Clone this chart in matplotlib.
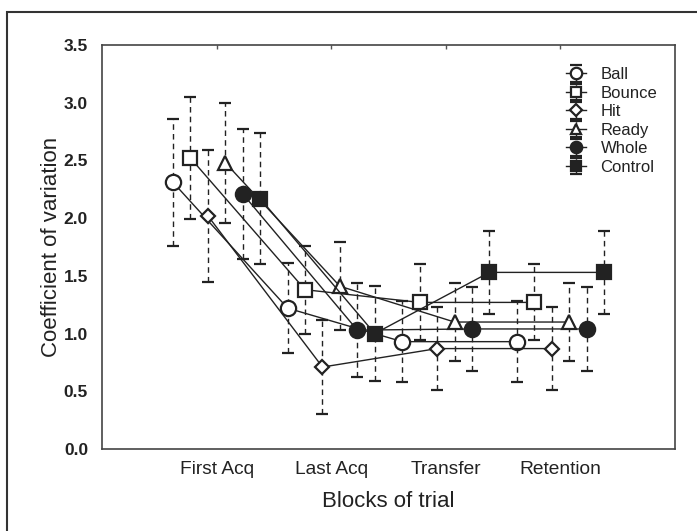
import matplotlib
matplotlib.use("Agg")
import matplotlib.pyplot as plt
from matplotlib.patches import Rectangle
import numpy as np

plt.rcParams['font.family'] = ['Liberation Sans', 'DejaVu Sans']

blocks = ["First Acq", "Last Acq", "Transfer", "Retention"]
series = ["Ball", "Bounce", "Hit", "Ready", "Whole", "Control"]

ball_mean    = [2.31, 1.22, 0.93, 0.93]
ball_sd      = [0.55, 0.39, 0.35, 0.35]
bounce_mean  = [2.52, 1.38, 1.27, 1.27]
bounce_sd    = [0.53, 0.38, 0.33, 0.33]
hit_mean     = [2.02, 0.71, 0.87, 0.87]
hit_sd       = [0.57, 0.41, 0.36, 0.36]
ready_mean   = [2.48, 1.41, 1.10, 1.10]
ready_sd     = [0.52, 0.38, 0.34, 0.34]
whole_mean   = [2.21, 1.03, 1.04, 1.04]
whole_sd     = [0.56, 0.41, 0.36, 0.36]
control_mean = [2.17, 1.00, 1.53, 1.53]
control_sd   = [0.57, 0.41, 0.36, 0.36]

means = [ball_mean, bounce_mean, hit_mean, ready_mean, whole_mean, control_mean]
sds = [ball_sd, bounce_sd, hit_sd, ready_sd, whole_sd, control_sd]

ink = '#222222'
styles = [
    dict(marker='o', ms=11, mfc='white'),
    dict(marker='s', ms=10.5, mfc='white'),
    dict(marker='D', ms=7.5, mfc='white'),
    dict(marker='^', ms=10.5, mfc='white'),
    dict(marker='o', ms=11, mfc=ink),
    dict(marker='s', ms=10.5, mfc=ink),
]

fig = plt.figure(figsize=(6.97, 5.31), dpi=100)
ax = fig.add_axes([102/697, 1-449/531, (675-102)/697, (449-45)/531])

# outer frame
fig.patches.append(Rectangle((7/697, -0.2), 1.2, 1.2 - 12/531,
                             transform=fig.transFigure, fill=False,
                             edgecolor='#333333', linewidth=1.5))

x = np.arange(1, len(blocks) + 1)
offsets = (np.arange(len(series)) - 2.5) * 0.152

for i, name in enumerate(series):
    st = styles[i]
    line, caps, bars = ax.errorbar(x + offsets[i], means[i], yerr=sds[i],
                                   color=ink, lw=1.0, marker=st['marker'],
                                   ms=st['ms'], mfc=st['mfc'], mec=ink, mew=1.6,
                                   ecolor=ink, elinewidth=1.0, capsize=4.5,
                                   capthick=1.0, label=name, zorder=3)
    for b in bars:
        b.set_linestyle((0, (4, 3)))

ax.set_xlim(0, 5)
ax.set_ylim(0, 3.5)
ax.set_xticks(x)
ax.set_xticklabels(blocks, fontsize=13.8, color=ink)
ax.set_yticks(np.arange(0, 3.51, 0.5))
ax.set_yticklabels([f"{v:.1f}" for v in np.arange(0, 3.51, 0.5)],
                   fontsize=12.5, fontweight='bold', color=ink)
ax.tick_params(axis='x', length=0, pad=9)
ax.tick_params(axis='y', length=0, pad=10)
ax.tick_params(axis='x', top=True, direction='in', length=3, width=1, color='#555555')
ax.tick_params(axis='x', bottom=False)
for s in ax.spines.values():
    s.set_color('#444444')
    s.set_linewidth(1.2)

ax.set_xlabel("Blocks of trial", fontsize=16, color=ink, labelpad=9)
ax.set_ylabel("Coefficient of variation", fontsize=16, color=ink, labelpad=1)

leg = ax.legend(loc='upper left', bbox_to_anchor=(0.809, 0.945), frameon=False,
                fontsize=12, handlelength=1.2, handletextpad=0.9,
                labelspacing=0.21, borderaxespad=0, borderpad=0, markerscale=0.75)
for t in leg.get_texts():
    t.set_color(ink)

fig.savefig("out.png", dpi=100)
